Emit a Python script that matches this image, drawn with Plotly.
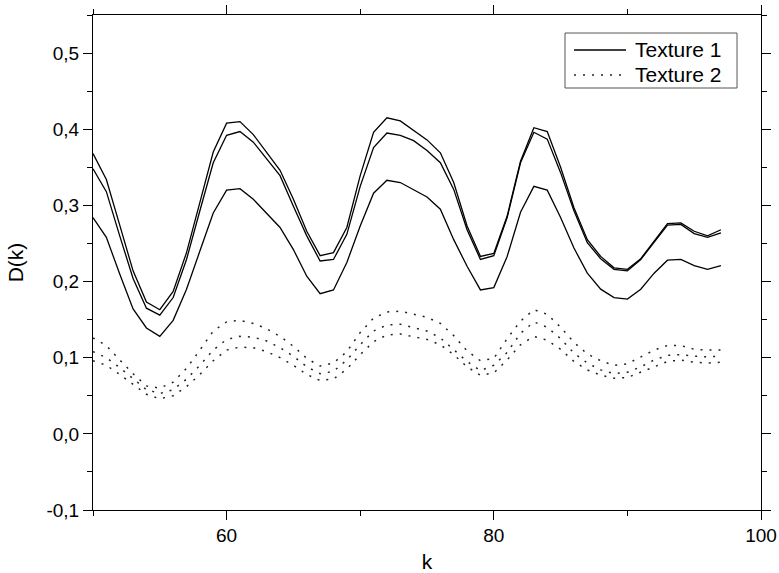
import plotly.graph_objects as go

k = [50, 51, 52, 53, 54, 55, 56, 57, 58, 59,
     60, 61, 62, 63, 64, 65, 66, 67, 68, 69,
     70, 71, 72, 73, 74, 75, 76, 77, 78, 79,
     80, 81, 82, 83, 84, 85, 86, 87, 88, 89,
     90, 91, 92, 93, 94, 95, 96, 97]

tex1_a = [0.368, 0.334, 0.274, 0.214, 0.173, 0.163, 0.187, 0.238, 0.304, 0.370,
          0.408, 0.410, 0.393, 0.370, 0.346, 0.308, 0.266, 0.234, 0.238, 0.271,
          0.339, 0.396, 0.415, 0.411, 0.398, 0.386, 0.369, 0.330, 0.273, 0.233,
          0.237, 0.286, 0.358, 0.402, 0.397, 0.350, 0.297, 0.255, 0.233, 0.218,
          0.216, 0.230, 0.253, 0.276, 0.277, 0.266, 0.260, 0.268]
tex1_b = [0.348, 0.318, 0.260, 0.204, 0.165, 0.156, 0.179, 0.229, 0.293, 0.356,
          0.392, 0.397, 0.383, 0.361, 0.339, 0.299, 0.260, 0.227, 0.229, 0.262,
          0.325, 0.376, 0.395, 0.392, 0.385, 0.372, 0.356, 0.321, 0.268, 0.229,
          0.234, 0.284, 0.356, 0.396, 0.387, 0.343, 0.293, 0.251, 0.230, 0.216,
          0.214, 0.229, 0.252, 0.274, 0.275, 0.263, 0.258, 0.264]
tex1_c = [0.284, 0.258, 0.210, 0.164, 0.139, 0.128, 0.149, 0.190, 0.240, 0.290,
          0.320, 0.322, 0.308, 0.290, 0.271, 0.242, 0.207, 0.184, 0.189, 0.225,
          0.273, 0.316, 0.333, 0.330, 0.321, 0.311, 0.295, 0.255, 0.220, 0.189,
          0.192, 0.233, 0.291, 0.325, 0.320, 0.284, 0.244, 0.211, 0.190, 0.179,
          0.177, 0.190, 0.211, 0.228, 0.229, 0.221, 0.216, 0.221]

tex2_a = [0.126, 0.116, 0.097, 0.079, 0.063, 0.060, 0.068, 0.086, 0.110, 0.135,
          0.147, 0.149, 0.145, 0.138, 0.128, 0.115, 0.099, 0.089, 0.093, 0.108,
          0.133, 0.152, 0.160, 0.161, 0.157, 0.153, 0.145, 0.129, 0.109, 0.096,
          0.099, 0.125, 0.148, 0.163, 0.157, 0.140, 0.120, 0.105, 0.096, 0.090,
          0.092, 0.101, 0.110, 0.116, 0.116, 0.111, 0.110, 0.110]
tex2_b = [0.108, 0.100, 0.087, 0.072, 0.058, 0.053, 0.058, 0.072, 0.090, 0.110,
          0.124, 0.128, 0.127, 0.122, 0.113, 0.102, 0.088, 0.079, 0.082, 0.097,
          0.117, 0.135, 0.143, 0.144, 0.140, 0.135, 0.126, 0.111, 0.095, 0.083,
          0.090, 0.107, 0.132, 0.147, 0.140, 0.125, 0.106, 0.093, 0.084, 0.079,
          0.081, 0.088, 0.097, 0.103, 0.104, 0.102, 0.101, 0.102]
tex2_c = [0.096, 0.090, 0.078, 0.065, 0.052, 0.046, 0.050, 0.062, 0.078, 0.096,
          0.110, 0.114, 0.113, 0.108, 0.100, 0.090, 0.078, 0.070, 0.072, 0.085,
          0.104, 0.121, 0.130, 0.131, 0.128, 0.124, 0.117, 0.104, 0.088, 0.077,
          0.080, 0.097, 0.117, 0.128, 0.123, 0.111, 0.095, 0.084, 0.077, 0.073,
          0.074, 0.081, 0.089, 0.095, 0.097, 0.094, 0.093, 0.094]

legend_names = ["Texture 1", "Texture 2"]
x_tickvals = [60, 80, 100]
x_ticktext = ["60", "80", "100"]
y_tickvals = [-0.1, 0.0, 0.1, 0.2, 0.3, 0.4, 0.5]
y_ticktext = ["-0,1", "0,0", "0,1", "0,2", "0,3", "0,4", "0,5"]

FONT = "Liberation Sans, Arial, sans-serif"
SOLID = dict(color="black", width=1.3)
DOTTED = dict(color="#222222", width=1.5, dash="2px,7px")

fig = go.Figure()
for ys in [tex1_a, tex1_b, tex1_c]:
    fig.add_trace(go.Scatter(x=k, y=ys, mode="lines", name=legend_names[0],
                             legendgroup="t1", showlegend=False, line=SOLID))
for ys in [tex2_a, tex2_b, tex2_c]:
    fig.add_trace(go.Scatter(x=k, y=ys, mode="lines", name=legend_names[1],
                             legendgroup="t2", showlegend=False, line=DOTTED))

# legend box drawn in paper coordinates to match the original compact legend
fig.add_shape(type="rect", xref="paper", yref="paper",
              x0=0.7066, x1=0.9641, y0=0.8525, y1=0.9636,
              line=dict(color="#555555", width=1), fillcolor="white", layer="above")
for yy, style, name in [(0.9293, SOLID, legend_names[0]), (0.8788, DOTTED, legend_names[1])]:
    fig.add_shape(type="line", xref="paper", yref="paper",
                  x0=0.7201, x1=0.7979, y0=yy, y1=yy, line=style, layer="above")
    fig.add_annotation(xref="paper", yref="paper", x=0.8084, y=yy, text=name,
                       showarrow=False, xanchor="left", yanchor="middle",
                       font=dict(family=FONT, size=21, color="black"))

axis_common = dict(showline=True, linecolor="black", linewidth=1, mirror="ticks",
                   ticks="outside", ticklen=9, tickwidth=1, tickcolor="black",
                   showgrid=False, zeroline=False, automargin=False,
                   tickfont=dict(family=FONT, size=19, color="black"))

fig.update_xaxes(range=[50, 100], tickvals=x_tickvals, ticktext=x_ticktext,
                 minor=dict(tickvals=[50, 70, 90], ticklen=5, tickcolor="black", ticks="outside"),
                 ticklabelstandoff=-1,
                 title=dict(text="k", font=dict(family=FONT, size=21, color="black"), standoff=9),
                 **axis_common)
fig.update_yaxes(range=[-0.1, 0.55], tickvals=y_tickvals, ticktext=y_ticktext,
                 minor=dict(tickvals=[-0.05, 0.05, 0.15, 0.25, 0.35, 0.45, 0.55],
                            ticklen=5, tickcolor="black", ticks="outside"),
                 title=dict(text="D(k)", font=dict(family=FONT, size=21, color="black"), standoff=17),
                 **axis_common)

fig.update_layout(
    width=779, height=573,
    margin=dict(l=93, r=18, t=15, b=63),
    paper_bgcolor="white", plot_bgcolor="white",
    font=dict(family=FONT, size=19, color="black"),
    showlegend=False,
)

fig.write_html("out.html", config={"displayModeBar": False},
               post_script="document.body.style.margin='0';document.body.style.overflow='hidden';")
